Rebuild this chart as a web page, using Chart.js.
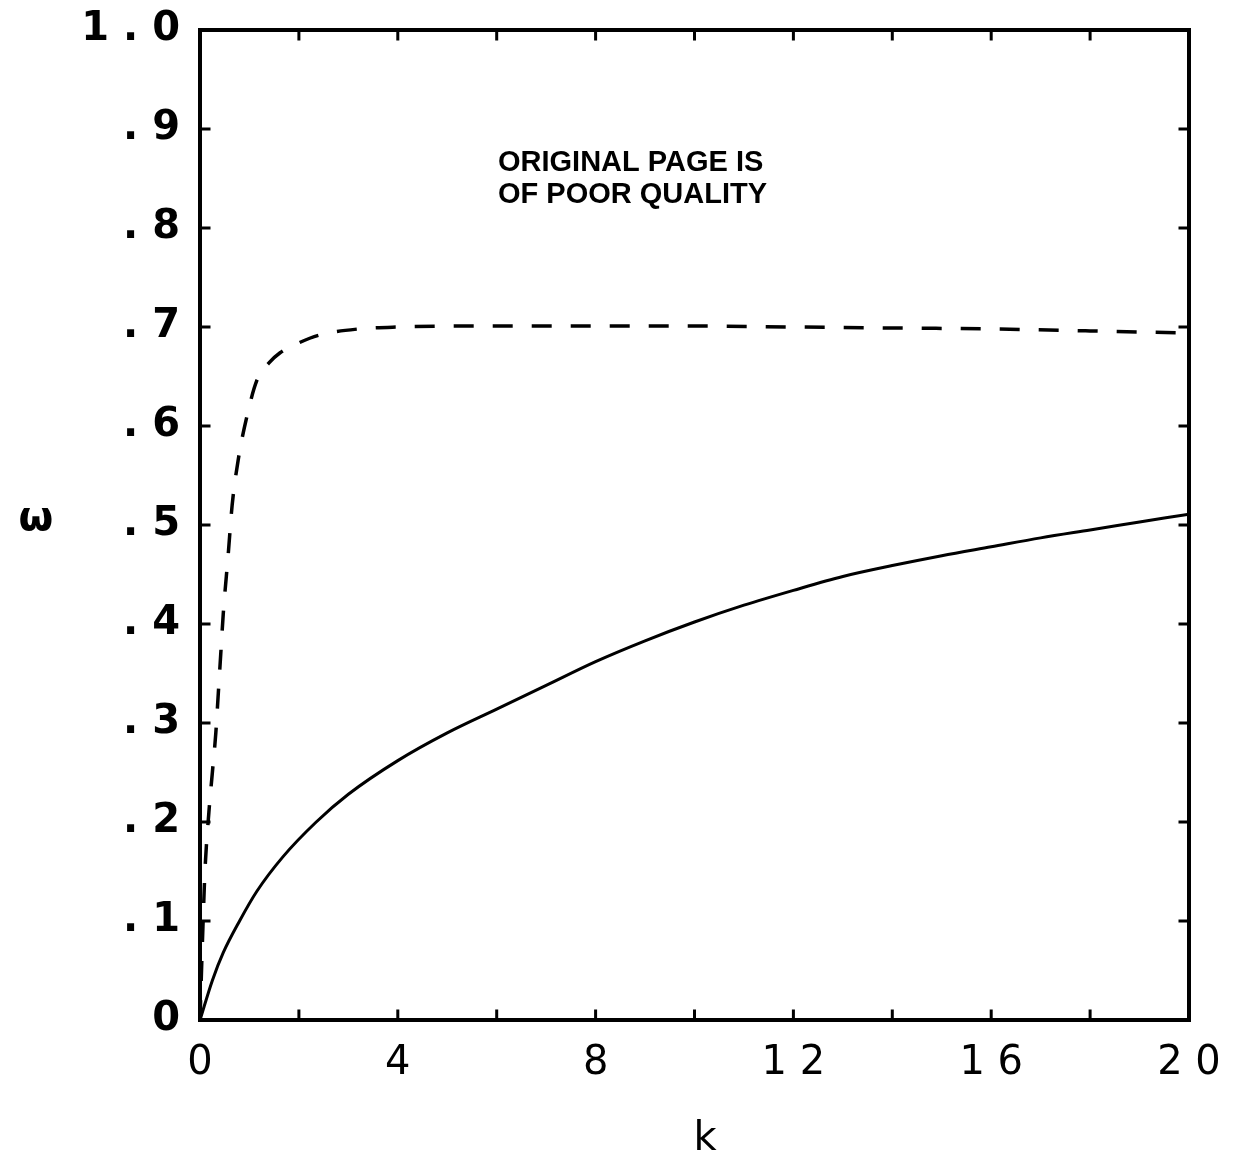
<!DOCTYPE html>
<html>
<head>
<meta charset="utf-8">
<script src="https://cdn.jsdelivr.net/npm/chart.js@4/dist/chart.umd.min.js"></script>
<style>
  html, body { margin: 0; padding: 0; background: #fff; }
  #wrap { width: 1234px; height: 1163px; position: relative; }
</style>
</head>
<body>
<div id="wrap"><canvas id="c" width="1234" height="1163"></canvas></div>
<script>
// ---- data ----
const solidK = [0, 0.25, 0.47, 0.8, 1.15, 1.68, 2.35, 3, 4, 5, 6, 7, 8, 9, 10, 11, 12, 13, 14, 15, 16, 17, 18, 19, 20];
const solidW = [0, 0.04, 0.068, 0.10, 0.13, 0.165, 0.200, 0.228, 0.262, 0.29, 0.314, 0.338, 0.362, 0.383, 0.402, 0.419, 0.434, 0.448, 0.459, 0.469, 0.478, 0.487, 0.495, 0.503, 0.511];
const dashK = [0, 0.05, 0.1, 0.18, 0.25, 0.32, 0.37, 0.42, 0.47, 0.57, 0.65, 0.77, 0.95, 1.15, 1.4, 1.62, 2, 2.43, 3.2, 4, 6, 8, 10, 12, 14, 16, 18, 20];
const dashW = [0, 0.08, 0.15, 0.21, 0.25, 0.29, 0.33, 0.37, 0.41, 0.47, 0.52, 0.565, 0.61, 0.646, 0.664, 0.674, 0.684, 0.692, 0.698, 0.700, 0.701, 0.701, 0.701, 0.700, 0.699, 0.698, 0.696, 0.694];
const xTickLabels = {0: '0', 4: '4', 8: '8', 12: '1 2', 16: '1 6', 20: '2 0'};
const yTickLabels = ['0', '. 1', '. 2', '. 3', '. 4', '. 5', '. 6', '. 7', '. 8', '. 9', '1 . 0'];
const xTitle = 'k';
const yTitle = 'ω';
const stampLines = ['ORIGINAL PAGE IS', 'OF POOR QUALITY'];

const toPts = (xs, ys) => xs.map((x, i) => ({x: x, y: ys[i]}));

const framePlugin = {
  id: 'frame',
  afterDraw(chart) {
    const ctx = chart.ctx;
    const xs = chart.scales.x, ys = chart.scales.y;
    const L = xs.left, R = xs.right, T = ys.top, B = ys.bottom;
    ctx.save();
    ctx.strokeStyle = '#000';
    ctx.lineWidth = 4;
    ctx.lineCap = 'square';
    ctx.strokeRect(L, T, R - L, B - T);
    ctx.lineWidth = 3;
    const tl = 9;
    ctx.beginPath();
    for (let v = 0; v <= 20; v += 2) {
      const px = xs.getPixelForValue(v);
      ctx.moveTo(px, B); ctx.lineTo(px, B - tl);
      ctx.moveTo(px, T); ctx.lineTo(px, T + tl);
    }
    for (let i = 0; i <= 10; i++) {
      const py = ys.getPixelForValue(i / 10);
      ctx.moveTo(L, py); ctx.lineTo(L + tl, py);
      ctx.moveTo(R, py); ctx.lineTo(R - tl, py);
    }
    ctx.stroke();
    // axis titles
    ctx.fillStyle = '#000';
    ctx.textAlign = 'center';
    ctx.textBaseline = 'middle';
    ctx.font = 'bold 40px "DejaVu Sans"';
    ctx.fillText(yTitle, 36, 520);
    ctx.font = '40px "DejaVu Sans"';
    ctx.fillText(xTitle, 705, 1140);
    // stamp
    ctx.textAlign = 'left';
    ctx.textBaseline = 'alphabetic';
    ctx.font = 'bold 29px "Liberation Sans"';
    ctx.fillText(stampLines[0], 498, 171);
    ctx.fillText(stampLines[1], 498, 203);
    ctx.restore();
  }
};

new Chart(document.getElementById('c'), {
  type: 'line',
  data: {
    datasets: [
      {
        data: toPts(solidK, solidW),
        borderColor: '#000',
        borderWidth: 3,
        pointRadius: 0,
        fill: false,
        cubicInterpolationMode: 'monotone'
      },
      {
        data: toPts(dashK, dashW),
        borderColor: '#000',
        borderWidth: 3.5,
        borderDash: [20, 19],
        pointRadius: 0,
        fill: false,
        cubicInterpolationMode: 'monotone'
      }
    ]
  },
  options: {
    responsive: false,
    animation: false,
    events: [],
    layout: { padding: { left: 0, right: 45, top: 30, bottom: 0 } },
    plugins: { legend: { display: false }, tooltip: { enabled: false }, title: { display: false } },
    scales: {
      x: {
        type: 'linear',
        min: 0, max: 20,
        grid: { display: false, drawTicks: false },
        border: { display: false },
        afterFit: s => { s.height = 143; s.paddingLeft = 0; s.paddingRight = 0; },
        ticks: {
          stepSize: 2,
          autoSkip: false,
          maxRotation: 0,
          padding: 20,
          color: '#000',
          font: { family: '"DejaVu Sans"', size: 40 },
          callback: v => (xTickLabels[v] !== undefined ? xTickLabels[v] : '')
        }
      },
      y: {
        type: 'linear',
        min: 0, max: 1,
        grid: { display: false, drawTicks: false },
        border: { display: false },
        afterFit: s => { s.width = 200; s.paddingTop = 0; s.paddingBottom = 0; },
        ticks: {
          stepSize: 0.1,
          autoSkip: false,
          padding: 20,
          color: '#000',
          font: { family: '"DejaVu Sans"', size: 40, weight: 'bold' },
          callback: (v, i) => yTickLabels[i]
        }
      }
    }
  },
  plugins: [framePlugin]
});
</script>
</body>
</html>
